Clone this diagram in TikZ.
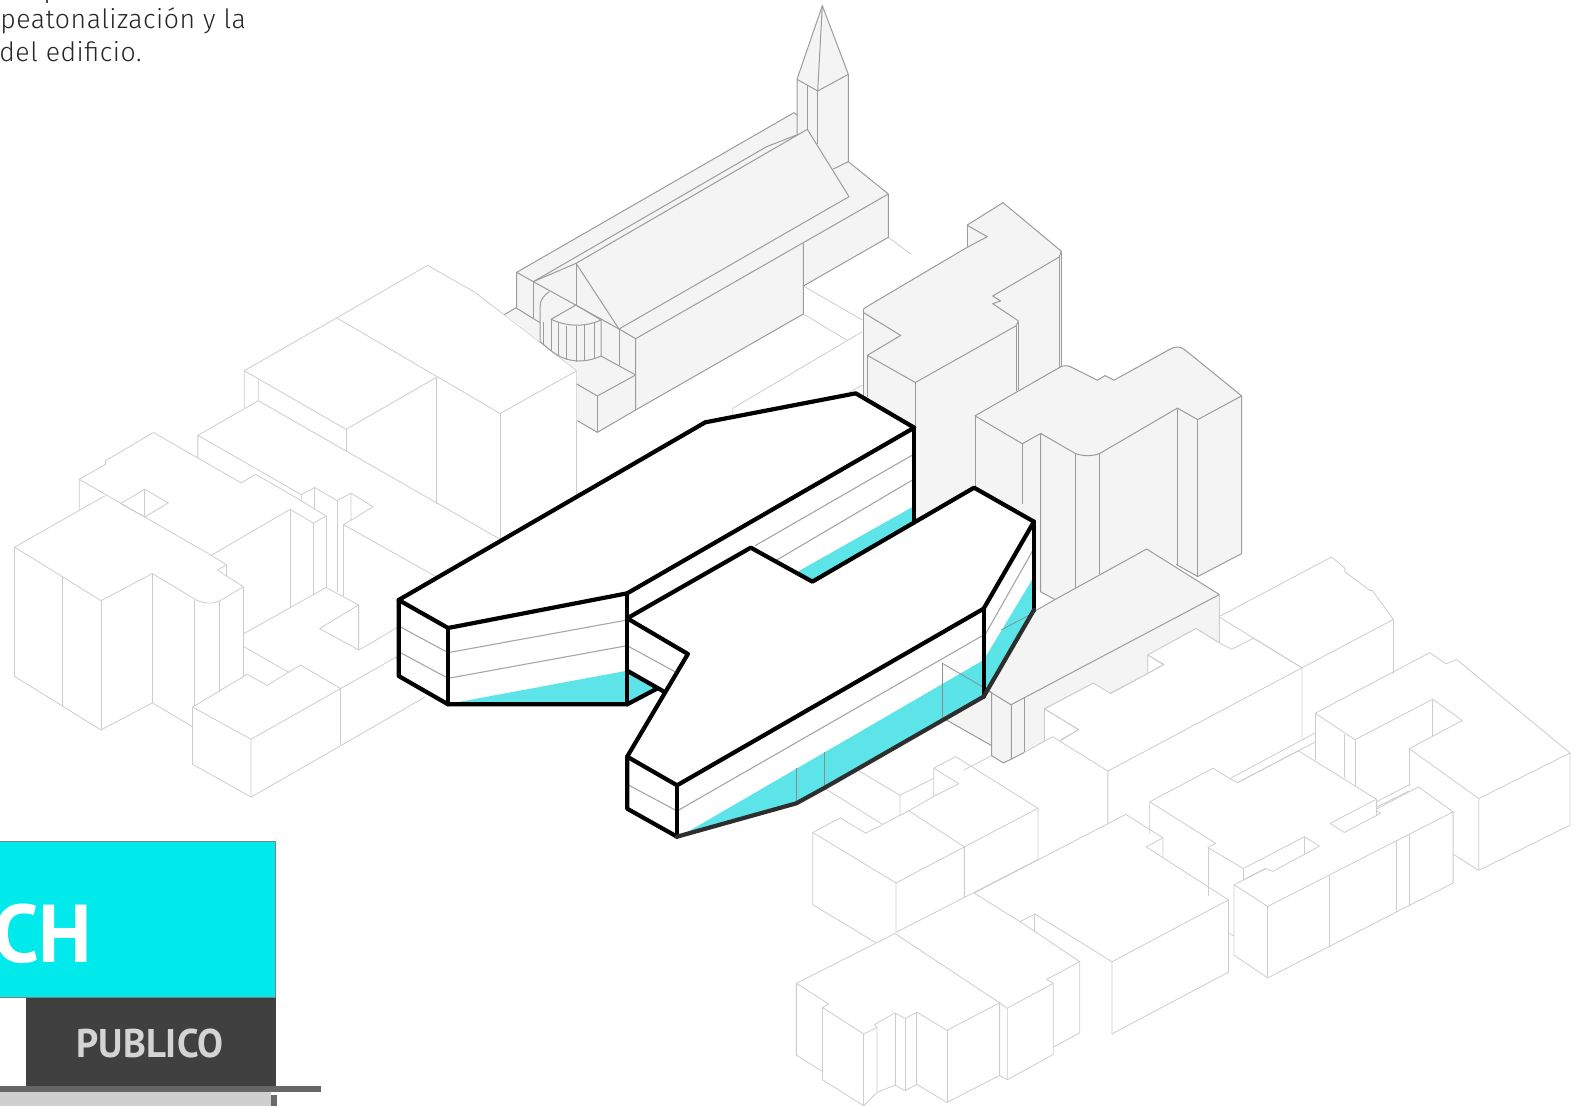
\documentclass[tikz,border=0pt]{standalone}
\usepackage{fontspec}
\setmainfont{Fira Sans Light}[LetterSpace=2]
\newfontfamily\boldlabel{PT Sans}[BoldFont=* Bold]
\usetikzlibrary{calc}
\definecolor{lite}{HTML}{CDCDCD}
\definecolor{bldline}{HTML}{9C9C9C}
\definecolor{bldfill}{HTML}{F4F4F4}
\definecolor{cy}{HTML}{00D6DC}
\definecolor{legcy}{HTML}{00EAEB}
\tikzset{
  thinl/.style={draw=lite,line width=0.4pt,line join=round},
  bldg/.style={draw=bldline,line width=0.5pt,line join=round},
  heavy/.style={draw=black,line width=2.1pt,line join=round,line cap=round},
  heavyd/.style={draw=black!82,line width=2.1pt,line join=round,line cap=round},
  floorl/.style={draw=black!35,line width=0.55pt},
  cyfill/.style={fill=cy,fill opacity=0.64,draw=none},
  ghost/.style={draw=black!45,line width=0.35pt},
  zb/.style={shift={(490,0)},scale=1/3},
  zc/.style={shift={(380,380)},xscale=1/2.306,yscale=1/3},
  zd/.style={shift={(840,190)},xscale=1/3,yscale=1/2.613},
  ze/.style={shift={(0,250)},xscale=1/2.613,yscale=1/2.8},
  zf/.style={shift={(780,540)},xscale=1/1.958,yscale=1/2.77},
  za/.style={shift={(0,800)},scale=1/3},
}
\begin{document}
\begin{tikzpicture}[x=0.5pt,y=-0.5pt]
\useasboundingbox (0,0) rectangle (1582,1106);
\fill[white] (0,0) rectangle (1582,1106);

% ---------- left pale buildings
\begin{scope}[ze]
\draw[thinl] (638,338)--(880,190)--(1117,43)--(1240,118)--(1318,182)--(1507,338)--(1307,458)--(880,190);
\draw[thinl] (1140,357)--(904,502)--(638,338)--(638,443);
\draw[thinl] (675,362)--(675,422)--(517,519)--(517,582);
\draw[thinl] (517,519)--(787,685);
\draw[thinl] (675,422)--(1307,810);
\draw[thinl] (904,502)--(904,563);
\draw[thinl] (1140,357)--(1140,710);
\draw[thinl] (1307,458)--(1307,810);
\draw[thinl] (1507,338)--(1507,690);
\draw[thinl] (207,728)--(207,642)--(276,600)--(276,590)--(401,511)--(630,652)--(668,628)--(787,702)--(852,745)--(819,765)--(758,726)--(552,855);
\draw[thinl] (207,642)--(552,855)--(592,882)--(568,896)--(636,943);
\draw[thinl] (592,882)--(592,912);
\draw[thinl] (787,702)--(787,685)--(822,665)--(881,702)--(917,681)--(975,719)--(917,757)--(917,681);
\draw[thinl] (917,757)--(897,769)--(1140,915);
\draw[thinl] (881,702)--(881,957);
\draw[thinl] (822,665)--(822,725);
\draw[thinl] (852,745)--(852,945);
\draw[thinl] (897,769)--(897,970);
\draw[thinl] (819,765)--(819,963);
\draw[thinl] (758,726)--(758,1000);
\draw[thinl] (315,710)--(378,670)--(440,708)--(378,748)--cycle;
\draw[thinl] (378,670)--(378,748);
\draw[thinl] (38,832)--(275,688);
\draw[thinl] (38,832)--(264,982)--(398,906)--(505,975) .. controls (530,992) and (555,992) .. (575,982)--(636,943);
\draw[thinl] (38,832)--(38,1194)--(264,1344)--(398,1268)--(503,1335);
\draw[thinl] (163,915)--(163,1277);
\draw[thinl] (264,982)--(264,1344);
\draw[thinl] (398,906)--(398,1268);
\draw[thinl] (508,980)--(508,1277);
\draw[thinl] (574,982)--(574,1238);
\draw[thinl] (636,943)--(636,1192);
\draw[thinl] (636,1075)--(852,945)--(937,994)--(835,1060)--(937,1120)--(937,994);
\draw[thinl] (937,1120)--(958,1108)--(1040,1055);
\draw[thinl] (636,1110)--(755,1183);
\draw[thinl] (503,1280)--(646,1188)--(698,1219)--(785,1162)--(890,1228)--(656,1370)--cycle;
\draw[thinl] (503,1280)--(503,1440)--(656,1532)--(656,1370);
\draw[thinl] (890,1228)--(890,1388);
\draw[thinl] (656,1532)--(890,1388)--(1110,1252);
\draw[thinl] (890,1228)--(1040,1137);
\end{scope}

% ---------- lower right pale buildings
\begin{scope}[zf]
\draw[thinl] (860,212)--(1080,47)--(1106,78)--(1106,88)--(1155,140)--(1160,140)--(1201,220)--(1022,354);
\draw[thinl] (1201,220)--(1201,370);
\draw[thinl] (862,215)--(1022,354)--(1022,550);
\draw[thinl] (1022,354)--(642,640);
\draw[thinl] (884,303)--(927,272)--(1022,354);
\draw[thinl] (815,245)--(720,318)--(752,345)--(720,370)--(720,318);
\draw[thinl] (648,425)--(720,370);
\draw[thinl] (614,396)--(648,425);
\draw[thinl] (815,245)--(860,285);
\draw[thinl] (614,396)--(518,468)--(585,525)--(550,553);
\draw[thinl] (518,468)--(518,550);
\draw[thinl] (534,545)--(642,640)--(642,785);
\draw[thinl] (534,545)--(480,585);
\draw[thinl] (415,597)--(360,637);
\draw[thinl] (344,600)--(505,743)--(505,885);
\draw[thinl] (344,600)--(301,632)--(350,675)--(301,710)--(301,632);
\draw[thinl] (235,707)--(301,660);
\draw[thinl] (301,710)--(252,750);
\draw[thinl] (155,640)--(235,707)--(235,762);
\draw[thinl] (252,750)--(361,850)--(505,743);
\draw[thinl] (90,690)--(200,787);
\draw[thinl] (64,810)--(118,770)--(168,812)--(252,750);
\draw[thinl] (64,810)--(227,950)--(361,850);
\draw[thinl] (64,810)--(64,1010)--(187,1115);
\draw[thinl] (227,950)--(227,1087)--(361,990)--(361,850);
\draw[thinl] (361,990)--(505,885);
\draw[thinl] (380,978)--(677,760)--(750,825)--(717,850)--(750,880)--(750,825);
\draw[thinl] (750,880)--(878,997);
\draw[thinl] (380,978)--(470,1057);
\draw[thinl] (499,1036)--(650,1168)--(878,997)--(878,1197)--(650,1368)--(650,1168);
\draw[thinl] (499,1036)--(470,1057)--(587,1168)--(587,1365)--(535,1405);
\draw[thinl] (499,1036)--(499,1085);
\draw[thinl] (225,1090)--(430,1282)--(445,1297)--(535,1228)--(535,1425)--(445,1495)--(445,1297);
\draw[thinl] (430,1282)--(430,1483)--(445,1495);
\draw[thinl] (225,1090)--(32,1228)--(95,1285)--(83,1295)--(164,1368)--(190,1350)--(190,1530)--(164,1567)--(83,1495)--(83,1295);
\draw[thinl] (32,1228)--(32,1427)--(83,1472);
\draw[thinl] (587,1168)--(522,1217)--(535,1228);
\draw[thinl] (430,1282)--(327,1358)--(268,1308)--(245,1325)--(225,1310)--(185,1342)--(190,1350);
\draw[thinl] (225,1310)--(225,1510);
\draw[thinl] (245,1325)--(245,1525);
\draw[thinl] (268,1308)--(268,1508);
\draw[thinl] (327,1358)--(327,1558);
\draw[thinl] (164,1368)--(164,1567);
\draw[thinl] (430,1483)--(327,1558)--(268,1508)--(245,1525)--(225,1510)--(190,1530);
\draw[thinl] (724,815)--(724,725)--(848,632)--(882,662)--(896,672)--(1015,584)--(1168,718)--(1168,765);
\draw[thinl] (724,725)--(853,840)--(838,852)--(907,910)--(1027,822)--(1056,848)--(965,918)--(952,910)--(907,942);
\draw[thinl] (838,852)--(838,985);
\draw[thinl] (907,910)--(907,942);
\draw[thinl] (1027,822)--(1027,870);
\draw[thinl] (1168,718)--(1077,785)--(1105,810)--(1176,757)--(1168,750);
\draw[thinl] (889,955)--(950,910);
\draw[thinl] (889,955)--(955,1015)--(1318,753)--(1250,684)--(1168,745);
\draw[thinl] (889,955)--(889,1150)--(955,1213)--(1318,950)--(1318,753);
\draw[thinl] (955,1015)--(955,1213);
\draw[thinl] (1076,930)--(1076,1128);
\draw[thinl] (1206,832)--(1206,1030);
\draw[thinl] (1233,815)--(1233,1012);
\draw[thinl] (882,660)--(1047,535);
\draw[thinl] (896,672)--(1047,560);
\draw[thinl] (1048,480)--(1272,312)--(1304,343)--(1325,331)--(1547,590)--(1368,716)--(1232,578)--(1336,500)--(1278,441)--(1126,553)--cycle;
\draw[thinl] (1278,441)--(1278,545);
\draw[thinl] (1048,480)--(1048,610);
\draw[thinl] (1106,538)--(1106,660);
\draw[thinl] (1126,553)--(1126,680);
\draw[thinl] (1232,578)--(1232,680);
\draw[thinl] (1547,590)--(1547,790)--(1368,915)--(1368,716);
\draw[thinl] (1368,915)--(1318,870);
\draw[thinl] (1168,725)--(1232,678);
\draw[thinl] (1168,740)--(1232,695);
\draw[thinl] (880,1090)--(889,1097);
\end{scope}

% ---------- church
\begin{scope}[zb]
\draw[thinl] (1195,712)--(1262,762);
\draw[thinl] (940,858)--(1117,960);
\draw[thinl] (940,942)--(1070,1020);
\draw[thinl] (728,1245)--(728,1225)--(1117,995);
\draw[thinl] (1080,1175)--(1117,1155);
\fill[bldfill] (43,944)--(80,922)--(80,817)--(912,338)--(921,345)--(921,238)--(997,17)--(1075,223)--(1075,485)--(1195,582)--(1195,712)--(940,858)--(940,942)--(437,1230)--(322,1297)--(260,1262)--(260,1110)--cycle;
\draw[bldg] (921,238)--(997,17)--(1075,223)--(983,273)--(921,238)--(921,402);
\draw[bldg] (997,17)--(983,273);
\draw[bldg] (953,256)--(953,388);
\draw[bldg] (983,273)--(983,432);
\draw[bldg] (1075,223)--(1075,485)--(1030,507);
\draw[bldg] (80,925)--(80,817)--(912,338)--(921,345);
\draw[bldg] (1075,485)--(1195,582)--(1195,712)--(940,858);
\draw[bldg] (1195,582)--(437,1016)--(437,1230)--(322,1297)--(262,1262);
\draw[bldg] (940,730)--(940,942)--(437,1230);
\draw[bldg] (952,388)--(1077,590)--(387,987)--(258,790)--cycle;
\draw[bldg] (130,845)--(258,790);
\draw[bldg] (130,845)--(830,440)--(925,403);
\draw[bldg] (80,817)--(130,845)--(387,987)--(437,1016);
\draw[bldg] (258,790)--(258,915);
\draw[bldg] (130,845)--(130,955);
\draw[bldg] (80,925)--(150,968);
\draw[bldg] (43,944)--(80,922);
\draw[bldg] (387,987)--(387,1095);
\draw[bldg] (333,1068)--(437,1125)--(322,1188)--(260,1152);
\draw[bldg] (322,1188)--(322,1297);
\draw[bldg] (150,1025)--(150,920) .. controls (150,900) and (162,885) .. (178,875);
\draw[bldg] (258,915)--(183,958) .. controls (230,980) and (285,982) .. (333,960)--cycle;
\draw[bldg] (333,960)--(333,1068) .. controls (285,1090) and (230,1090) .. (183,1052)--(150,1025);
\foreach \xa/\yb/\yc in {160/965/1033,183/958/1052,205/970/1068,230/977/1080,258/979/1085,283/976/1082,312/969/1076}
  \draw[bldg] (\xa,\yb)--(\xa,\yc);
\end{scope}

% ---------- towers and slab
\begin{scope}[zd]
\fill[bldfill] (70,320)--(80,305)--(381,150)--(381,92)--(489,33)--(664,160)--(664,465)--(405,590)--(405,780)--(226,870)--(70,870)--cycle;
\draw[bldg] (381,150)--(442,122)--(381,92)--(489,33)--(664,160)--(658,175)--(458,277)--(482,290)--(458,297)--(535,342)--(528,355)--(226,503)--(82,432)--(182,380)--(70,320) .. controls (68,312) and (72,308) .. (80,305)--cycle;
\draw[bldg] (381,92)--(381,150);
\draw[bldg] (70,320)--(70,540);
\draw[bldg] (82,432)--(82,540);
\draw[bldg] (226,503)--(226,640);
\draw[bldg] (535,345)--(535,522);
\draw[bldg] (528,355)--(528,525);
\draw[bldg] (664,160)--(664,460);
\draw[bldg] (658,175)--(658,465);
\fill[bldfill] (405,590)--(660,463)--(690,460)--(772,497)--(795,485)--(822,497)--(990,412) .. controls (1005,408) and (1020,408) .. (1035,415)--(1205,538)--(1205,950)--(1073,1010)--(1012,980)--(920,938)--(645,1070)--(602,1050)--(585,1045)--(405,780)--cycle;
\draw[bldg] (405,590)--(660,463) .. controls (670,458) and (682,458) .. (692,462)--(772,497)--(795,485)--(822,497)--(990,416) .. controls (1005,408) and (1022,408) .. (1035,418)--(1205,538)--(1073,600)--(1012,570)--(780,688) .. controls (760,696) and (725,696) .. (705,688)--(602,636)--(547,663)--cycle;
\draw[bldg] (405,590)--(405,775);
\draw[bldg] (547,663)--(547,820);
\draw[bldg] (602,636)--(602,1050)--(645,1070);
\draw[bldg] (705,688)--(705,1040);
\draw[bldg] (778,690)--(778,1003);
\draw[bldg] (1012,570)--(1012,980);
\draw[bldg] (1073,600)--(1073,1010);
\draw[bldg] (1205,538)--(1205,950)--(1073,1010)--(1008,978);
\fill[bldfill] (310,1243)--(645,1070)--(920,938)--(1138,1057)--(1138,1183)--(1068,1145)--(923,1215)--(923,1263)--(810,1315)--(760,1288)--(613,1355)--(613,1440)--(552,1470)--(514,1487)--(490,1497)--(455,1478)--(455,1452)--(310,1380)--cycle;
\draw[bldg] (585,1100)--(645,1070)--(920,938)--(1138,1057)--(513,1345)--(438,1305);
\draw[thinl] (1138,1057)--(1138,1183)--(1175,1200);
\draw[bldg] (310,1243)--(455,1313)--(455,1478)--(490,1497)--(514,1487)--(514,1345);
\draw[bldg] (552,1325)--(552,1470);
\draw[bldg] (310,1380)--(455,1452);
\draw[bldg] (514,1487)--(552,1470);
\draw[thinl] (552,1470)--(613,1440)--(613,1355)--(760,1288)--(810,1315)--(923,1263)--(923,1215)--(1068,1145)--(1138,1183);
\draw[thinl] (923,1215)--(970,1240)--(923,1263);
\draw[thinl] (613,1355)--(715,1410)--(660,1440);
\end{scope}

% ---------- main volumes
\begin{scope}[zc]
\fill[white] (43,660)--(750,127)--(1097,40)--(1232,143)--(1232,425)--(997,605)--(855,503)--(570,715)--(655,935)--(570,973)--(157,973)--(43,888)--cycle;
\fill[white,opacity=0.86] (570,715)--(710,822)--(570,1130)--(685,1216)--(1392,686)--(1508,425)--(1508,690)--(1392,950)--(1030,1220)--(960,1270)--(685,1370)--(570,1286)--cycle;
\draw[floorl] (43,738)--(157,818)--(570,720);
\draw[floorl] (43,815)--(157,895)--(570,797)--(680,875);
\draw[floorl] (1228,225)--(865,497);
\draw[floorl] (1228,300)--(915,540);
\draw[floorl] (570,1213)--(685,1293)--(1392,765);
\draw[floorl] (1395,765)--(1506,510);
\fill[cyfill] (165,970)--(570,872)--(570,973)--cycle;
\fill[cyfill] (570,872)--(655,935)--(640,925)--(570,973)--cycle;
\fill[cyfill] (1232,378)--(963,575)--(997,605)--(1232,425)--cycle;
\fill[cyfill] (697,1365)--(1392,840)--(1392,950)--(1030,1220)--(960,1270)--cycle;
\fill[cyfill] (1392,840)--(1508,590)--(1508,690)--(1392,950)--cycle;
\draw[ghost] (960,1165)--(960,1268);
\draw[ghost] (1025,1115)--(1025,1220);
\draw[ghost] (1297,850)--(1297,1015);
\draw[ghost] (1297,850)--(1392,922);
\draw[ghost] (1432,750)--(1505,700);
\fill[white] (570,715)--(855,503)--(997,605)--(1370,323)--(1508,425)--(1392,686)--(685,1216)--(570,1130)--(710,822)--cycle;
\draw[heavy] (570,640)--(157,744)--(43,660)--(750,127)--(1097,40)--(1232,143)--(570,640);
\draw[heavy] (43,660)--(43,888)--(157,973)--(570,973)--(640,925);
\draw[heavy] (570,872)--(655,935);
\draw[heavy] (157,744)--(157,973);
\draw[heavy] (570,640)--(570,973);
\draw[heavy] (1232,143)--(1232,425);
\draw[heavy] (570,715)--(855,503)--(997,605)--(1370,323)--(1508,425)--(1392,686)--(685,1216)--(570,1130)--(710,822)--cycle;
\draw[heavy] (1508,425)--(1508,690);
\draw[heavy] (570,1130)--(570,1286)--(685,1370);
\draw[heavy] (685,1216)--(685,1370);
\draw[heavy] (1392,686)--(1392,950);
\draw[heavyd] (685,1370)--(960,1270)--(1030,1220)--(1392,950)--(1508,690);
\end{scope}

% ---------- legend
\begin{scope}[za]
\fill[legcy] (-5,125) rectangle (826,592);
\draw[black!50,line width=0.7pt] (-5,125)--(826,125)--(826,592)--(-5,592);
\fill[black!75] (78,594) rectangle (829,860);
\fill[black!60] (-5,858) rectangle (963,877);
\fill[black!19] (-5,877) rectangle (812,920);
\fill[black!58] (812,885) rectangle (832,920);
\node[anchor=base east,inner sep=0pt,text=white,font=\boldlabel\bfseries\fontsize{41}{41}\selectfont] (ch) at (278,488) {CH};
\node[anchor=base,inner sep=0pt,text=black!17,font=\boldlabel\bfseries\fontsize{20}{20}\selectfont,xscale=0.97] (pub) at (450,772) {PUBLICO};
\end{scope}

% ---------- caption fragment
\node[anchor=base west,inner sep=0pt,text=black!85,font=\fontsize{13.3}{13.3}\selectfont] (capa) at (0,29) {peatonalización y la};
\node[anchor=base west,inner sep=0pt,text=black!85,font=\fontsize{13.3}{13.3}\selectfont] (capb) at (-1,62) {del edificio.};
\fill[black!70] (45.5,-1) rectangle (47.5,3);
\end{tikzpicture}
\end{document}
